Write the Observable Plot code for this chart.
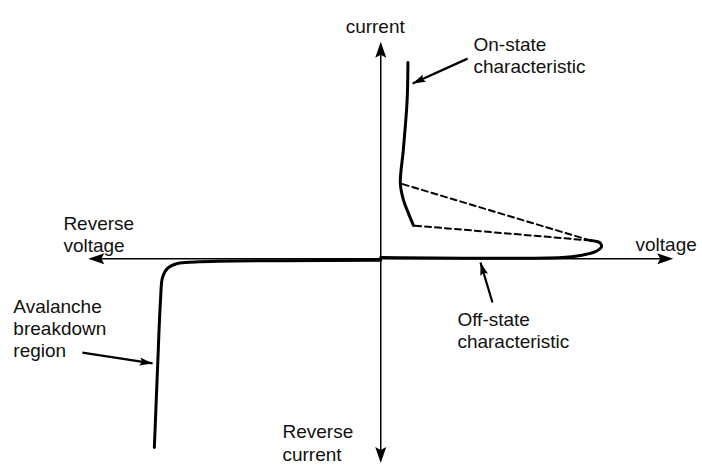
<!DOCTYPE html>
<html><head><meta charset="utf-8">
<script src="https://cdn.jsdelivr.net/npm/d3@7"></script>
<script src="https://cdn.jsdelivr.net/npm/@observablehq/plot@0.6"></script>
<style>body{margin:0;background:#fff} #chart{width:702px;height:465px}</style>
</head><body><div id="chart"></div>
<script>
// Axes (arbitrary units: voltage, current)
const axisTips = [
  {v: 100, i: 0, rot: 90},
  {v: -100, i: 0, rot: -90},
  {v: 0, i: 84, rot: 0},
  {v: 0, i: -79, rot: 180}
];
// On-state characteristic
const onState = [
  {v: 9.3, i: 76}, {v: 9.0, i: 61}, {v: 7.7, i: 42}, {v: 6.7, i: 29.2},
  {v: 7.8, i: 22.6}, {v: 9.5, i: 17.5}, {v: 11.2, i: 12.9}
];
// Forward off-state (blocking) characteristic
const offState = [
  {v: 0, i: 0.5}, {v: 62, i: 0.5}, {v: 68.3, i: 1.3}, {v: 73.4, i: 2.8},
  {v: 75.5, i: 4.8}, {v: 74.8, i: 6.3}, {v: 71.7, i: 7.1}
];
// Reverse blocking + avalanche breakdown
const reverseState = [
  {v: 0, i: -0.5}, {v: -63.3, i: -1.2}, {v: -69.5, i: -1.8}, {v: -72.9, i: -3.7},
  {v: -74.6, i: -7.2}, {v: -75.3, i: -16.1}, {v: -76.3, i: -42.1}, {v: -77.4, i: -73}
];
// Dashed switching paths
const switchUpper = [{v: 71.7, i: 7.1}, {v: 6.7, i: 29.2}];
const switchLower = [{v: 71.7, i: 7.1}, {v: 11.2, i: 12.9}];
// Labels
const labels = [
  {text: "current", v: -12, i: 93.6},
  {text: "On-state\ncharacteristic", v: 31.7, i: 86.6},
  {text: "voltage", v: 87.1, i: 9.2},
  {text: "Reverse\nvoltage", v: -108.5, i: 17.4},
  {text: "Avalanche\nbreakdown\nregion", v: -125.6, i: -14.8},
  {text: "Off-state\ncharacteristic", v: 26.2, i: -19.8},
  {text: "Reverse\ncurrent", v: -33.6, i: -63.4}
];
// Pointer arrows
const pointers = [
  {v1: 29.7, i1: 77.5, v2: 10.9, i2: 67.9},
  {v1: 38.2, i1: -16.9, v2: 34.1, i2: -1.4},
  {v1: -102, i1: -36.3, v2: -78, i2: -40.5}
];

const W = 702, H = 465;
const xDomain = [-130, 110], yDomain = [-80, 100];
const sx = W / (xDomain[1] - xDomain[0]), sy = H / (yDomain[1] - yDomain[0]);
const pointerHeads = pointers.map(p => ({
  v: p.v2, i: p.i2,
  rot: Math.atan2((p.v2 - p.v1) * sx, (p.i2 - p.i1) * sy) * 180 / Math.PI
}));

const bigHead = {draw(ctx) { ctx.moveTo(0, 0); ctx.lineTo(5.5, 16); ctx.lineTo(0, 13); ctx.lineTo(-5.5, 16); ctx.closePath(); }};
const smallHead = {draw(ctx) { ctx.moveTo(0, 0); ctx.lineTo(4, 13); ctx.lineTo(0, 10.5); ctx.lineTo(-4, 13); ctx.closePath(); }};

const chart = Plot.plot({
  width: W, height: H, margin: 0,
  style: {background: "#fff", fontFamily: "'Liberation Sans', Arial, sans-serif"},
  x: {domain: xDomain, axis: null},
  y: {domain: yDomain, axis: null},
  marks: [
    Plot.ruleY([{i: 0, a: -97, b: 97}], {y: "i", x1: "a", x2: "b", stroke: "#000", strokeWidth: 1.5}),
    Plot.ruleX([{v: 0, a: -76, b: 81}], {x: "v", y1: "a", y2: "b", stroke: "#000", strokeWidth: 1.5}),
    Plot.dot(axisTips, {x: "v", y: "i", rotate: "rot", symbol: bigHead, fill: "#000"}),
    Plot.line(reverseState, {x: "v", y: "i", curve: "catmull-rom", stroke: "#000", strokeWidth: 3}),
    Plot.line(offState, {x: "v", y: "i", curve: "catmull-rom", stroke: "#000", strokeWidth: 3}),
    Plot.line(onState, {x: "v", y: "i", curve: "catmull-rom", stroke: "#000", strokeWidth: 3}),
    Plot.line(switchUpper, {x: "v", y: "i", stroke: "#000", strokeWidth: 2, strokeDasharray: "6,4"}),
    Plot.line(switchLower, {x: "v", y: "i", stroke: "#000", strokeWidth: 2, strokeDasharray: "6,4"}),
    Plot.link(pointers, {x1: "v1", y1: "i1", x2: "v2", y2: "i2", stroke: "#000", strokeWidth: 2.2}),
    Plot.dot(pointerHeads, {x: "v", y: "i", rotate: "rot", symbol: smallHead, fill: "#000"}),
    Plot.text(labels, {x: "v", y: "i", text: "text", textAnchor: "start", lineAnchor: "top",
      lineHeight: 1.17, fontSize: 19, fill: "#111"})
  ]
});
document.getElementById("chart").append(chart);
</script></body></html>
